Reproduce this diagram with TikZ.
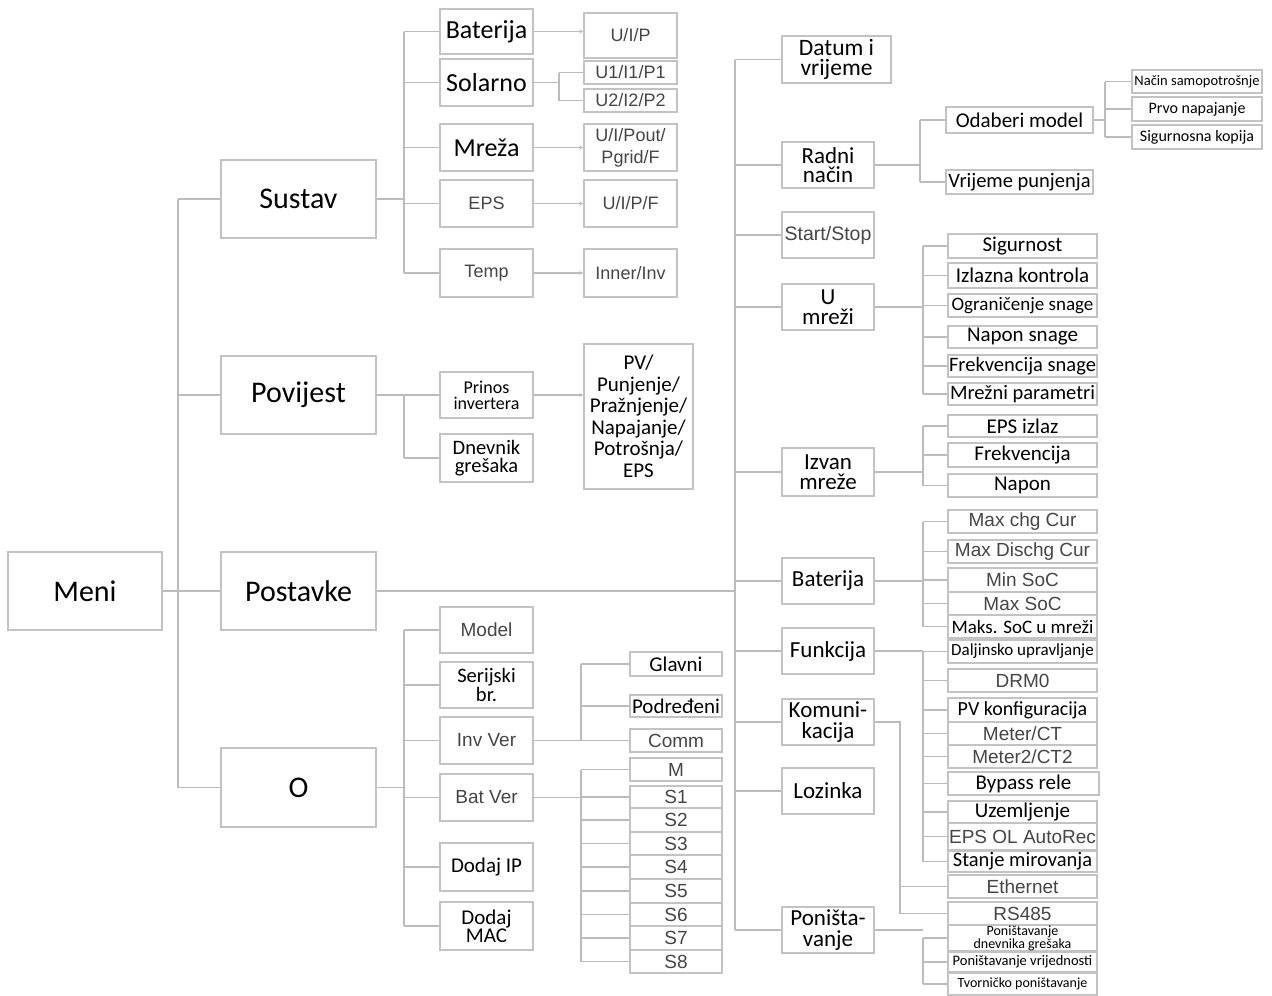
\documentclass[tikz,border=0pt]{standalone}
\usepackage{fontspec}
\setmainfont{Carlito}
\newfontfamily\arfont{Liberation Sans}
\usetikzlibrary{arrows.meta}
\definecolor{lg}{RGB}{188,188,188}
\definecolor{lgb}{RGB}{195,195,195}
\definecolor{txtgray}{RGB}{70,70,70}
\newcommand{\mybox}[7]{\node[box,minimum width={(#4)-(#2)},minimum height={(#5)-(#3)},#6] (#1) at ({((#2)+(#4))/2},{((#3)+(#5))/2}) {#7};}
\tikzset{
 box/.style={draw=lgb, line width=1.4pt, fill=white, inner sep=0pt, align=center, text=black},
 conn/.style={draw=lg, line width=1.2pt},
 arr/.style={-{Stealth[length=4pt,width=4pt]}},
 cf/.style 2 args={font=\fontsize{#1}{#2}\selectfont},
 af/.style 2 args={font=\arfont\fontsize{#1}{#2}\selectfont, text=txtgray},
}
\begin{document}
\begin{tikzpicture}[x=1pt,y=-1pt]
\useasboundingbox (0,0) rectangle (1272,996);
% level 0/1
\mybox{meni}{8}{552}{162}{630}{cf={30}{36}}{Meni}
\mybox{sustav}{221}{160}{376}{238}{cf={30}{36}}{Sustav}
\mybox{povijest}{221}{356}{376}{434}{cf={30}{36}}{Povijest}
\mybox{postavke}{221}{552}{376}{630}{cf={30}{36}}{Postavke}
\mybox{about}{221}{748}{376}{827}{cf={30}{36}}{O}
% Sustav children
\mybox{sbat}{440}{9}{533}{54}{cf={26}{30}}{Baterija}
\mybox{ssol}{440}{59}{533}{106}{cf={26}{30}}{Solarno}
\mybox{smre}{440}{124}{533}{171}{cf={26}{30}}{Mreža}
\mybox{seps}{440}{180}{533}{227}{af={18}{22}}{EPS}
\mybox{stemp}{440}{249}{533}{297}{af={18}{22}}{Temp}
\mybox{ruip}{584}{13}{677}{58}{af={18}{22}}{U/I/P}
\mybox{ruone}{584}{61}{677}{84}{af={18}{22}}{U1/I1/P1}
\mybox{rutwo}{584}{89}{677}{112}{af={18}{22}}{U2/I2/P2}
\mybox{rpout}{584}{124}{677}{171}{af={18}{22}}{U/I/Pout/\\Pgrid/F}
\mybox{ruipf}{584}{180}{677}{227}{af={18}{22}}{U/I/P/F}
\mybox{rinner}{584}{249}{677}{297}{af={18}{22}}{Inner/Inv}
% Povijest children
\mybox{prinos}{440}{372}{533}{418}{cf={18}{16}}{Prinos\\invertera}
\mybox{dnev}{440}{434}{533}{482}{cf={20.5}{18}}{Dnevnik\\grešaka}
\mybox{pv}{584}{344}{693}{489}{cf={21}{21.5}}{PV/\\Punjenje/\\Pražnjenje/\\Napajanje/\\Potrošnja/\\EPS}
% O children
\mybox{omodel}{440}{607}{533}{653}{af={19}{22}}{Model}
\mybox{oser}{440}{662}{533}{708}{cf={20.5}{17.5}}{Serijski\\br.}
\mybox{oinv}{440}{717}{533}{764}{af={19}{22}}{Inv Ver}
\mybox{obat}{440}{774}{533}{821}{af={19}{22}}{Bat Ver}
\mybox{oip}{440}{843}{533}{891}{cf={21}{22}}{Dodaj IP}
\mybox{omac}{440}{902}{533}{950}{cf={21}{18}}{Dodaj\\MAC}
\mybox{glavni}{630}{652}{722}{676}{cf={21}{22}}{Glavni}
\mybox{podr}{630}{695}{722}{717}{cf={21}{22}}{Podređeni}
\mybox{comm}{630}{729}{722}{752}{af={19}{22}}{Comm}
\mybox{bm}{630}{758}{722}{781}{af={19}{22}}{M}
\mybox{bsa}{630}{786}{722}{808}{af={19}{22}}{S1}
\mybox{bsb}{630}{808}{722}{832}{af={19}{22}}{S2}
\mybox{bsc}{630}{832}{722}{855}{af={19}{22}}{S3}
\mybox{bsd}{630}{855}{722}{879}{af={19}{22}}{S4}
\mybox{bse}{630}{879}{722}{903}{af={19}{22}}{S5}
\mybox{bsf}{630}{903}{722}{926}{af={19}{22}}{S6}
\mybox{bsg}{630}{926}{722}{950}{af={19}{22}}{S7}
\mybox{bsh}{630}{950}{722}{973}{af={19}{22}}{S8}
% Postavke children
\mybox{datum}{782}{36}{891}{83}{cf={23.5}{20.5}}{Datum i\\vrijeme}
\mybox{radni}{782}{142}{874}{188}{cf={23}{19.5}}{Radni\\način}
\mybox{start}{782}{212}{874}{258}{af={19.5}{22}}{Start/Stop}
\mybox{umrezi}{782}{284}{874}{330}{cf={23}{20}}{U\\mreži}
\mybox{izvan}{782}{448}{874}{496}{cf={23}{20.5}}{Izvan\\mreže}
\mybox{pbat}{782}{558}{874}{604}{cf={23}{26}}{Baterija}
\mybox{funk}{782}{628}{874}{674}{cf={23}{26}}{Funkcija}
\mybox{komu}{782}{699}{874}{745}{cf={23}{20.5}}{Komuni-\\kacija}
\mybox{lozinka}{782}{768}{874}{814}{cf={23}{26}}{Lozinka}
\mybox{ponis}{782}{907}{874}{953}{cf={23}{20.5}}{Poništa-\\vanje}
% Radni children
\mybox{odaberi}{946}{107}{1093}{133}{cf={21}{22}}{Odaberi model}
\mybox{vrijeme}{946}{170}{1093}{194}{cf={20.5}{22}}{Vrijeme punjenja}
\mybox{nacin}{1132}{70}{1262}{93}{cf={14.5}{16}}{Način samopotrošnje}
\mybox{prvo}{1132}{97}{1262}{121}{cf={16}{16}}{Prvo napajanje}
\mybox{sigkop}{1132}{125}{1262}{149}{cf={16}{16}}{Sigurnosna kopija}
% U mrezi children
\mybox{sigurnost}{948}{234}{1097}{258}{cf={21}{22}}{Sigurnost}
\mybox{izlazna}{948}{263}{1097}{288}{cf={21}{22}}{Izlazna kontrola}
\mybox{ogran}{948}{294}{1097}{317}{cf={19}{22}}{Ograničenje snage}
\mybox{napons}{948}{326}{1097}{348}{cf={21}{22}}{Napon snage}
\mybox{frekvs}{948}{355}{1097}{377}{cf={20.5}{22}}{Frekvencija snage}
\mybox{mrezni}{948}{383}{1097}{405}{cf={20.5}{22}}{Mrežni parametri}
% Izvan children
\mybox{epsizlaz}{948}{415}{1097}{437}{cf={21}{22}}{EPS izlaz}
\mybox{frek}{948}{443}{1097}{467}{cf={21}{22}}{Frekvencija}
\mybox{napon}{948}{474}{1097}{497}{cf={21}{22}}{Napon}
% Baterija children
\mybox{chg}{948}{510}{1097}{533}{af={19}{22}}{Max chg Cur}
\mybox{dischg}{948}{540}{1097}{563}{af={19}{22}}{Max Dischg Cur}
\mybox{minsoc}{948}{568}{1097}{592}{af={19}{22}}{Min SoC}
\mybox{maxsoc}{948}{592}{1097}{615}{af={19}{22}}{Max SoC}
\mybox{maks}{948}{615}{1097}{638}{cf={19}{22}}{Maks. SoC u mreži}
% Funkcija children
\mybox{dalj}{948}{640}{1097}{663}{cf={17}{22}}{Daljinsko upravljanje}
\mybox{drm}{948}{669}{1097}{692}{af={19}{22}}{DRM0}
\mybox{pvk}{948}{698}{1097}{722}{cf={20}{22}}{PV konfiguracija}
\mybox{meter}{948}{722}{1097}{745}{af={19}{22}}{Meter/CT}
\mybox{metertwo}{948}{745}{1097}{768}{af={19}{22}}{Meter2/CT2}
\mybox{bypass}{948}{772}{1099}{795}{cf={21}{22}}{Bypass rele}
\mybox{uzem}{948}{801}{1097}{823}{cf={21}{22}}{Uzemljenje}
\mybox{epsol}{948}{823}{1097}{850}{af={19}{22}}{EPS OL AutoRec}
\mybox{stanje}{948}{851}{1097}{872}{cf={20.5}{22}}{Stanje mirovanja}
% Komunikacija children
\mybox{eth}{948}{875}{1097}{898}{af={19}{22}}{Ethernet}
\mybox{rs}{948}{902}{1097}{925}{af={19}{22}}{RS485}
% Ponistavanje children
\mybox{pdg}{948}{927}{1097}{949}{cf={14}{11.5}}{Poništavanje\\dnevnika grešaka}
\mybox{pvr}{948}{952}{1097}{972}{cf={14.5}{16}}{Poništavanje vrijednosti}
\mybox{tvp}{948}{973}{1097}{995}{cf={14}{16}}{Tvorničko poništavanje}
% bus coordinates
\coordinate (bM) at (178,0);
\coordinate (bS) at (404,0);
\coordinate (bSol) at (559,0);
\coordinate (bV) at (581,0);
\coordinate (bT) at (735,0);
\coordinate (bR) at (920,0);
\coordinate (bOd) at (1105,0);
\coordinate (bC) at (923,0);
\coordinate (bK) at (900,0);
% main trunk
\draw[conn] (meni.east) -- (postavke.west);
\draw[conn] (bM |- sustav.west) -- (bM |- about.west);
\foreach \n in {sustav,povijest,about} \draw[conn] (bM |- \n.west) -- (\n.west);
% Sustav
\draw[conn] (sustav.east) -- (sustav.east -| bS);
\draw[conn] (bS |- sbat.west) -- (bS |- stemp.west);
\foreach \n in {sbat,ssol,smre,seps,stemp} \draw[conn] (bS |- \n.west) -- (\n.west);
\draw[conn,arr] (sbat.east) -- (sbat.east -| ruip.west);
\draw[conn,arr] (smre.east) -- (smre.east -| rpout.west);
\draw[conn,arr] (seps.east) -- (seps.east -| ruipf.west);
\draw[conn,arr] (stemp.east) -- (stemp.east -| rinner.west);
\draw[conn] (ssol.east) -- (ssol.east -| bSol);
\draw[conn] (bSol |- ruone.west) -- (bSol |- rutwo.west);
\foreach \n in {ruone,rutwo} \draw[conn] (bSol |- \n.west) -- (\n.west);
% Povijest
\draw[conn] (povijest.east) -- (povijest.east -| bS);
\draw[conn] (bS |- prinos.west) -- (bS |- dnev.west);
\foreach \n in {prinos,dnev} \draw[conn] (bS |- \n.west) -- (\n.west);
\draw[conn,arr] (prinos.east) -- (prinos.east -| pv.west);
% O
\draw[conn] (about.east) -- (about.east -| bS);
\draw[conn] (bS |- omodel.west) -- (bS |- omac.west);
\foreach \n in {omodel,oser,oinv,obat,oip,omac} \draw[conn] (bS |- \n.west) -- (\n.west);
\draw[conn] (oinv.east) -- (oinv.east -| bV);
\draw[conn] (bV |- glavni.west) -- (bV |- comm.west);
\foreach \n in {glavni,podr,comm} \draw[conn] (bV |- \n.west) -- (\n.west);
\draw[conn] (obat.east) -- (obat.east -| bV);
\draw[conn] (bV |- bm.west) -- (bV |- bsh.west);
\foreach \n in {bm,bsa,bsb,bsc,bsd,bse,bsf,bsg,bsh} \draw[conn] (bV |- \n.west) -- (\n.west);
% Postavke
\draw[conn] (postavke.east) -- (postavke.east -| bT);
\draw[conn] (bT |- datum.west) -- (bT |- ponis.west);
\foreach \n in {datum,radni,start,umrezi,izvan,pbat,funk,komu,lozinka,ponis} \draw[conn] (bT |- \n.west) -- (\n.west);
% Radni
\draw[conn] (radni.east) -- (radni.east -| bR);
\draw[conn] (bR |- odaberi.west) -- (bR |- vrijeme.west);
\foreach \n in {odaberi,vrijeme} \draw[conn] (bR |- \n.west) -- (\n.west);
\draw[conn] (odaberi.east) -- (odaberi.east -| bOd);
\draw[conn] (bOd |- nacin.west) -- (bOd |- sigkop.west);
\foreach \n in {nacin,prvo,sigkop} \draw[conn] (bOd |- \n.west) -- (\n.west);
% U mrezi
\draw[conn] (umrezi.east) -- (umrezi.east -| bC);
\draw[conn] (bC |- sigurnost.west) -- (bC |- mrezni.west);
\foreach \n in {sigurnost,izlazna,ogran,napons,frekvs,mrezni} \draw[conn] (bC |- \n.west) -- (\n.west);
% Izvan
\draw[conn] (izvan.east) -- (izvan.east -| bC);
\draw[conn] (bC |- epsizlaz.west) -- (bC |- napon.west);
\foreach \n in {epsizlaz,frek,napon} \draw[conn] (bC |- \n.west) -- (\n.west);
% Baterija
\draw[conn] (pbat.east) -- (pbat.east -| bC);
\draw[conn] (bC |- chg.west) -- (bC |- maks.west);
\foreach \n in {chg,dischg,minsoc,maxsoc,maks} \draw[conn] (bC |- \n.west) -- (\n.west);
% Funkcija
\draw[conn] (funk.east) -- (funk.east -| bC);
\draw[conn] (bC |- dalj.west) -- (bC |- stanje.west);
\foreach \n in {dalj,drm,pvk,meter,metertwo,bypass,uzem,epsol,stanje} \draw[conn] (bC |- \n.west) -- (\n.west);
% Komunikacija
\draw[conn] (komu.east) -- (komu.east -| bK) -- (bK |- rs.west) -- (rs.west);
\draw[conn] (bK |- eth.west) -- (eth.west);
% Ponistavanje
\draw[conn] (ponis.east) -- (ponis.east -| bC);
\draw[conn] (bC |- pdg.west) -- (bC |- tvp.west);
\foreach \n in {pdg,pvr,tvp} \draw[conn] (bC |- \n.west) -- (\n.west);
\end{tikzpicture}
\end{document}
